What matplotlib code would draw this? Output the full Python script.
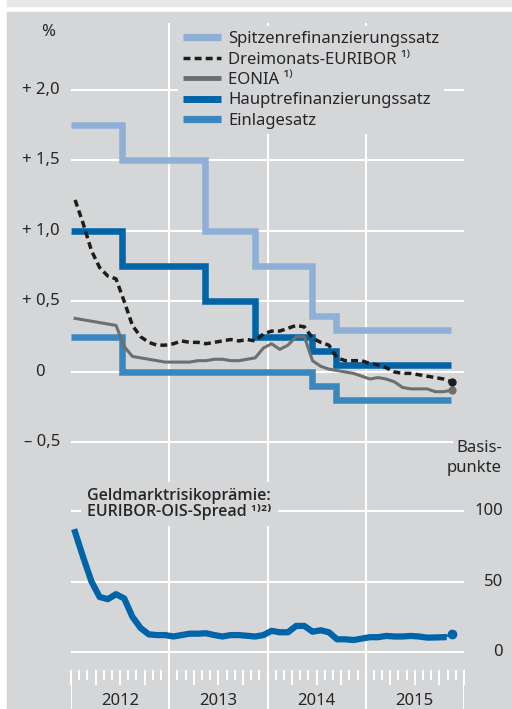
import matplotlib
matplotlib.use("Agg")
import matplotlib.pyplot as plt
import numpy as np
import pandas as pd
from matplotlib.lines import Line2D
from matplotlib.patches import Rectangle

plt.rcParams["font.family"] = ["Noto Sans", "DejaVu Sans"]

# ---------------------------------------------------------------------------
# Data (monthly averages, Jan 2012 - Nov 2015; last value = latest reading)
# ---------------------------------------------------------------------------
months = pd.date_range("2012-01-01", "2015-11-01", freq="MS")
t = np.asarray(months.year + (months.month - 0.5) / 12.0)

euribor = [1.22, 1.05, 0.86, 0.74, 0.68, 0.66, 0.50, 0.33, 0.25, 0.21, 0.19, 0.19,
           0.20, 0.22, 0.21, 0.21, 0.20, 0.21, 0.22, 0.23, 0.22, 0.23, 0.22, 0.27,
           0.29, 0.29, 0.31, 0.33, 0.32, 0.24, 0.21, 0.19, 0.10, 0.08, 0.08, 0.08,
           0.06, 0.05, 0.03, 0.00, -0.01, -0.01, -0.02, -0.03, -0.04, -0.05, -0.07]

eonia = [0.38, 0.37, 0.36, 0.35, 0.34, 0.33, 0.18, 0.11, 0.10, 0.09, 0.08, 0.07,
         0.07, 0.07, 0.07, 0.08, 0.08, 0.09, 0.09, 0.08, 0.08, 0.09, 0.10, 0.17,
         0.20, 0.16, 0.19, 0.25, 0.25, 0.08, 0.04, 0.02, 0.01, 0.00, -0.01, -0.03,
         -0.05, -0.04, -0.05, -0.07, -0.11, -0.12, -0.12, -0.12, -0.14, -0.14, -0.13]

spread = [85, 67, 50, 39, 37.5, 41, 38, 25, 17, 12.5, 12, 12,
          11, 12, 13, 13, 13.3, 12, 11, 12, 12, 11.5, 11, 12,
          15, 14, 14, 18.5, 18.5, 14.4, 15.4, 14, 9, 9, 8.5, 9.5,
          10.5, 10.5, 11.4, 11, 11, 11.4, 11, 10.2, 10.3, 10.5, 12.8]

# ECB key rates (decision effective dates as decimal years)
rate_dates = [2012.0, 2012.52, 2013.36, 2013.87, 2014.45, 2014.70, 2015.87]
mlf_rate = [1.75, 1.50, 1.00, 0.75, 0.40, 0.30, 0.30]
mro_rate = [1.00, 0.75, 0.50, 0.25, 0.15, 0.05, 0.05]
depo_rate = [0.25, 0.00, 0.00, 0.00, -0.10, -0.20, -0.20]

years = [2012, 2013, 2014, 2015]
top_ticks = [2.0, 1.5, 1.0, 0.5, 0.0, -0.5]
top_labels = ["+ 2,0", "+ 1,5", "+ 1,0", "+ 0,5", "0", "\u2013 0,5"]
bot_ticks = [0, 50, 100]

# ---------------------------------------------------------------------------
# Style
# ---------------------------------------------------------------------------
BG = "#d5d6d8"
C_MLF = "#8eafd6"
C_MRO = "#0064a8"
C_DEPO = "#3a87c0"
C_EONIA = "#6d6e70"
C_EURIBOR = "#1d1d1b"
TXT = "#262626"
FS = 12

W, H = 512, 709
fig = plt.figure(figsize=(W / 100, H / 100), dpi=100)
fig.patches.append(Rectangle((7 / W, 0), (W - 7) / W, (H - 12) / H,
                             transform=fig.transFigure, color=BG, zorder=-10))
fig.patches.append(Rectangle((7 / W, 1 - 6 / H), (W - 7) / W, 6 / H,
                             transform=fig.transFigure, color="#e8e8ea", zorder=-10))


def px_axes(x0, y0, x1, y1):
    return fig.add_axes([x0 / W, 1 - y1 / H, (x1 - x0) / W, (y1 - y0) / H])


X0, X1 = 71, 464
ax1 = px_axes(X0, 23, X1, 455)
ax2 = px_axes(X0, 455, X1, 670)
ax3 = px_axes(X0, 670, X1, 709)

for ax in (ax1, ax2, ax3):
    ax.set_facecolor("none")
    for s in ax.spines.values():
        s.set_visible(False)
    ax.set_xlim(2012.0, 2016.0)

# --- top panel ---
ax1.set_ylim(-0.589, 2.475)
ax1.set_yticks(top_ticks)
ax1.set_xticks(years[1:])
ax1.grid(True, color="white", linewidth=1.5, zorder=0)
ax1.tick_params(length=0, labelleft=False, labelbottom=False)

step_kw = dict(drawstyle="steps-post", solid_joinstyle="miter", solid_capstyle="butt")
ax1.plot(rate_dates, mlf_rate, color=C_MLF, lw=4.7, zorder=2, **step_kw)
ax1.plot(rate_dates, depo_rate, color=C_DEPO, lw=4.7, zorder=3, **step_kw)
ax1.plot(rate_dates, mro_rate, color=C_MRO, lw=4.7, zorder=4, **step_kw)
ax1.plot(t, eonia, color=C_EONIA, lw=2.2, zorder=5)
ax1.plot(t[-1], eonia[-1], "o", color=C_EONIA, ms=5, zorder=5)
ax1.plot(t, euribor, color=C_EURIBOR, lw=2.5, dashes=(2.0, 1.2), zorder=6)
ax1.plot(t[-1], euribor[-1], "o", color=C_EURIBOR, ms=5, zorder=6)

for v, lab in zip(top_ticks, top_labels):
    xpos = -0.066 if v == 0 else -0.028
    ax1.text(xpos, v, lab, transform=ax1.get_yaxis_transform(),
             ha="right", va="center", fontsize=FS, color=TXT)
ax1.text(-0.058, 2.41, "%", transform=ax1.get_yaxis_transform(),
         ha="center", va="center", fontsize=FS, color=TXT)

handles = [
    Line2D([], [], color=C_MLF, lw=5.2, solid_capstyle="butt"),
    Line2D([], [], color=C_EURIBOR, lw=2.5, dashes=(2.0, 1.2)),
    Line2D([], [], color=C_EONIA, lw=3.5, solid_capstyle="butt"),
    Line2D([], [], color=C_MRO, lw=5.0, solid_capstyle="butt"),
    Line2D([], [], color=C_DEPO, lw=5.2, solid_capstyle="butt"),
]
labels = ["Spitzenrefinanzierungssatz", "Dreimonats-EURIBOR \u00b9\u207e", "EONIA \u00b9\u207e",
          "Hauptrefinanzierungssatz", "Einlagesatz"]
leg = fig.legend(handles, labels, loc="upper left", bbox_to_anchor=(178 / W, 1 - 26 / H),
                 fontsize=FS, frameon=True, facecolor=BG, edgecolor="none", framealpha=1,
                 fancybox=False, handlelength=2.3, handletextpad=0.4, labelspacing=0.27,
                 borderpad=0.3, borderaxespad=0)
for txt in leg.get_texts():
    txt.set_color(TXT)
leg.set_zorder(20)

# --- bottom panel ---
ax2.set_ylim(-(670 - 652) / 1.41, (652 - 455) / 1.41)
ax2.set_yticks(bot_ticks)
ax2.set_xticks(years[1:])
ax2.grid(True, color="white", linewidth=1.5, zorder=0)
ax2.tick_params(length=0, labelleft=False, labelbottom=False)
ax2.plot(t[:-1], spread[:-1], color=C_MRO, lw=4.5, solid_joinstyle="round", zorder=3)
ax2.plot(t[-2:], spread[-2:], color=C_MRO, lw=1.5, zorder=3)
ax2.plot(t[-1], spread[-1], "o", color=C_MRO, ms=6, zorder=3)

xr = (503 - X0) / (X1 - X0)
for v in bot_ticks:
    ax2.text(xr, v, str(v), transform=ax2.get_yaxis_transform(),
             ha="right", va="center", fontsize=FS, color=TXT)
fig.text(502 / W, 1 - 448 / H, "Basis-", ha="right", va="center", fontsize=FS, color=TXT,
         bbox=dict(facecolor=BG, edgecolor="none", pad=2))
fig.text(502 / W, 1 - 468 / H, "punkte", ha="right", va="center", fontsize=FS, color=TXT)
fig.text(87 / W, 1 - 504 / H, "Geldmarktrisikopr\u00e4mie:\nEURIBOR-OIS-Spread \u00b9\u207e\u00b2\u207e",
         ha="left", va="center", fontsize=FS - 0.5, color=TXT, fontweight="semibold",
         family=["Open Sans", "DejaVu Sans"], linespacing=0.95, zorder=10,
         bbox=dict(facecolor=BG, edgecolor="none", boxstyle="square,pad=0.4"))

# --- time axis band ---
ax3.set_ylim(0, 1)
ax3.set_yticks([])
ax3.set_xticks(np.arange(2012, 2016.01, 0.25))
ax3.set_xticks(np.arange(2012, 2016.01, 1 / 12), minor=True)
ax3.tick_params(axis="x", which="both", top=True, bottom=False, labelbottom=False,
                direction="in", color="white", width=1.5)
ax3.tick_params(axis="x", which="major", length=10.8)
ax3.tick_params(axis="x", which="minor", length=7.2)
for y in years + [2016]:
    ax3.axvline(y, color="white", lw=1.5)
for y in years:
    ax3.text(y + 0.5, 0.0, str(y), ha="center", va="bottom", fontsize=FS, color=TXT)

fig.savefig("out.png", dpi=100)
